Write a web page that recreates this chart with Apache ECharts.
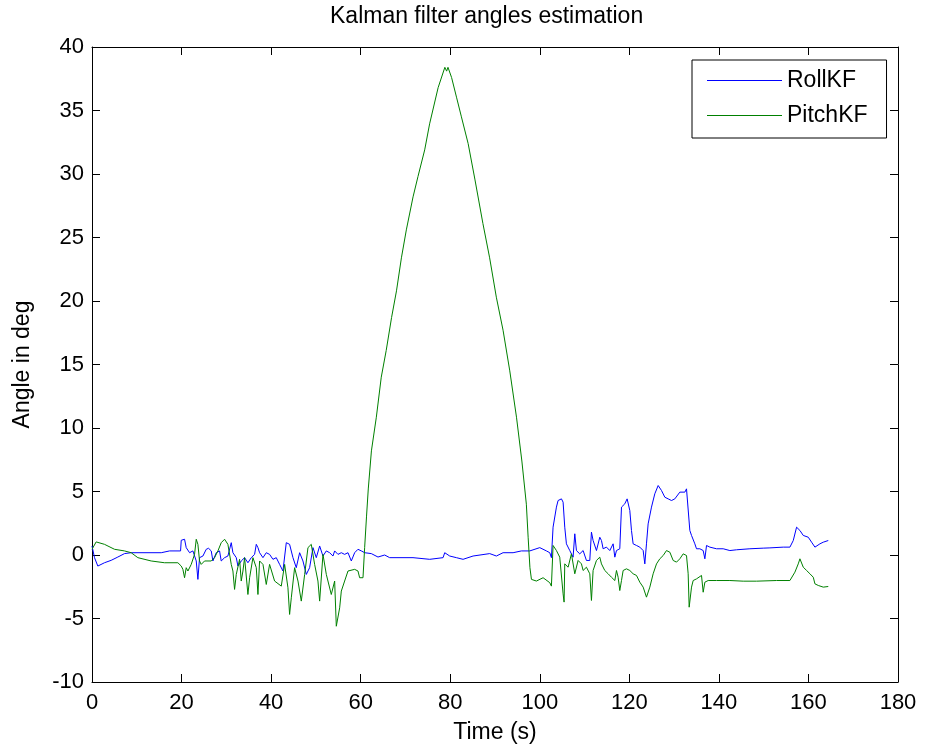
<!DOCTYPE html>
<html>
<head>
<meta charset="utf-8">
<title>Kalman filter angles estimation</title>
<script src="https://cdn.jsdelivr.net/npm/echarts@6/dist/echarts.min.js"></script>
<style>
  html, body { margin: 0; padding: 0; background: #fff; }
  #chart { width: 925px; height: 749px; }
</style>
</head>
<body>
<div id="chart"></div>
<script>
// values (time in s, angle in deg)
const rollTime = [0, 0.56, 1.3, 2.79, 4.28, 5.77, 7.26, 8.75, 15.46, 17.32, 19.78, 19.93, 20.67, 21.04, 21.79, 22.53,
  23.28, 23.65, 24.02, 24.77, 25.51, 26.03, 26.63, 27.0, 27.75, 28.49, 28.86, 29.61, 30.35, 31.1, 31.47, 32.22,
  32.59, 33.33, 34.08, 34.82, 35.57, 36.31, 36.69, 37.06, 37.43, 38.18, 38.92, 39.66, 40.41, 41.15, 41.9, 42.64,
  43.39, 44.13, 44.88, 45.62, 46.37, 47.11, 47.86, 48.6, 49.35, 50.09, 50.84, 51.58, 52.33, 53.07, 53.82, 54.19,
  54.93, 55.68, 56.42, 57.17, 57.91, 58.66, 59.4, 60.15, 60.89, 62.38, 63.87, 65.36, 66.48, 71.69, 75.42, 78.4,
  78.77, 79.89, 81.38, 82.87, 85.1, 88.82, 90.31, 91.8, 94.04, 95.9, 97.76, 100.0, 101.49, 102.23, 102.6, 102.97,
  103.72, 104.09, 104.84, 105.21, 105.58, 105.95, 106.7, 107.44, 107.82, 108.19, 108.93, 109.68, 110.42, 111.17,
  111.54, 111.91, 112.66, 113.4, 113.78, 114.15, 114.89, 115.64, 116.38, 116.76, 117.13, 117.87, 118.25, 118.99,
  119.51, 120.11, 120.48, 120.85, 121.6, 122.34, 123.09, 123.46, 123.83, 124.2, 124.95, 125.69, 126.44, 127.18,
  127.93, 128.67, 129.42, 130.16, 131.28, 131.65, 132.4, 132.77, 133.14, 133.51, 133.89, 134.63, 135.0, 135.75,
  136.49, 136.87, 137.24, 137.98, 139.47, 140.96, 142.45, 143.94, 146.92, 149.9, 151.39, 154.37, 155.86, 156.61,
  157.35, 157.72, 158.1, 158.84, 159.96, 160.7, 161.45, 161.82, 162.57, 163.31, 164.43];
const rollAngle = [0.71, -0.21, -0.87, -0.61, -0.42, -0.16, 0.11, 0.18, 0.18, 0.32, 0.32, 1.16, 1.24, 0.58, 0.18, 0.32,
  -0.47, -1.92, -0.21, -0.08, 0.45, 0.53, 0.32, -0.47, 0.18, 0.32, -0.47, -0.21, -0.08, 0.97, 0.18, -0.21,
  -0.87, -0.47, -0.21, -0.61, -0.21, 0.05, 0.84, 0.58, 0.18, -0.21, 0.18, 0.05, -0.34, -0.21, -0.74, -1.26,
  0.97, 0.84, -0.21, -1.0, 0.18, -0.47, -1.53, -1.0, 0.58, -0.21, 0.71, -0.08, 0.32, 0.18, -0.08, 0.32,
  0.05, 0.18, 0.05, 0.18, -0.47, 0.18, 0.45, 0.32, 0.18, 0.11, -0.16, 0.0, -0.21, -0.21, -0.34, -0.21,
  0.18, -0.08, -0.21, -0.34, -0.08, 0.11, -0.08, 0.18, 0.18, 0.32, 0.32, 0.58, 0.32, 0.18, -0.21, 2.19,
  3.77, 4.29, 4.42, 4.16, 2.19, 0.88, 0.35, -0.17, 1.67, 0.35, 0.09, 0.35, -0.43, -0.43,
  1.8, 1.14, 0.35, 1.4, 1.14, 0.49, 0.62, 0.35, 0.88, -0.17, 0.35, 0.49, 3.77, 4.03,
  4.42, 3.5, 1.93, 0.88, 0.75, 0.62, 0.35, -0.7, 0.88, 2.45, 3.77, 4.82, 5.47, 5.08,
  4.55, 4.42, 4.29, 4.42, 4.95, 5.08, 4.95, 5.21, 5.08, 1.93, 1.54, 0.88, 0.49, 0.49,
  0.35, -0.3, 0.75, 0.62, 0.49, 0.49, 0.35, 0.41, 0.49, 0.54, 0.56, 0.62, 0.62, 1.14,
  2.19, 2.32, 1.93, 1.54, 1.4, 1.01, 0.62, 0.75, 0.88, 1.01, 1.14];

const pitchTime = [0, 0.93, 2.79, 5.03, 7.26, 8.75, 10.24, 13.22, 16.2, 19.18, 19.93, 20.3, 20.67, 21.04, 21.42, 22.16,
  22.9, 23.28, 23.65, 24.02, 24.39, 25.14, 26.63, 27.37, 28.12, 28.86, 29.61, 30.35, 31.1, 31.47, 31.84, 32.22,
  32.96, 33.33, 33.71, 34.08, 34.82, 35.2, 35.94, 36.69, 37.06, 37.43, 38.18, 38.92, 39.66, 40.78, 42.27, 43.02,
  43.76, 44.13, 44.51, 45.25, 46.0, 46.74, 47.49, 48.23, 48.97, 49.72, 50.46, 50.84, 51.58, 52.33, 53.44, 54.19,
  54.56, 54.93, 55.31, 55.68, 56.42, 57.17, 58.66, 59.4, 59.77, 60.15, 60.52, 60.89, 61.3, 61.7, 62.4, 63.5,
  64.6, 65.7, 66.9, 68.0, 69.1, 70.2, 71.7, 72.8, 74.3, 75.4, 77.3, 78.8, 79.2, 79.5, 80.3, 81.4,
  82.5, 84.0, 85.5, 87.3, 88.8, 90.3, 91.8, 93.3, 94.8, 96.0, 97.0, 97.4, 97.8, 98.14, 99.25, 100.74,
  102.23, 102.6, 102.97, 103.72, 104.46, 105.21, 105.43, 105.58, 106.33, 107.07, 107.82, 108.56, 109.31, 109.68, 110.42, 111.17,
  111.54, 111.91, 112.66, 113.4, 113.78, 114.52, 115.27, 116.01, 116.76, 117.13, 117.5, 117.87, 118.25, 118.62, 119.36, 120.11,
  120.85, 121.6, 122.34, 123.09, 123.83, 124.58, 125.32, 126.07, 126.81, 127.56, 128.3, 129.05, 129.79, 130.54, 131.28, 132.03,
  132.4, 132.77, 133.14, 133.36, 133.89, 134.26, 135.0, 136.12, 136.49, 136.87, 137.61, 139.47, 142.45, 145.43, 148.41, 152.88,
  155.86, 156.98, 157.72, 158.1, 158.84, 159.59, 160.33, 161.08, 161.45, 162.2, 163.31, 164.43];
const pitchAngle = [0.45, 1.03, 0.84, 0.45, 0.32, 0.18, -0.21, -0.47, -0.61, -0.61, -0.87, -1.13, -1.79, -1.0, -1.26, -0.74,
  0.05, 1.24, 0.84, -0.47, -0.74, -0.47, -0.47, -0.21, 0.32, 0.97, 1.24, 0.84, -0.74, -1.26, -2.71, -1.53,
  -0.34, -2.05, -1.26, -0.21, -3.11, -1.79, -0.21, -1.0, -3.11, -0.47, -0.74, -2.32, -0.74, -2.05, -2.45, -0.74,
  -2.58, -4.68, -3.37, -1.0, -2.05, -3.63, -1.53, 0.58, 0.84, -0.74, -2.05, -3.63, 0.05, -1.53, -3.11, -2.05,
  -5.61, -5.74, -4.16, -2.84, -2.05, -1.26, -1.13, -1.26, -1.79, -1.92, -1.79, 0.58, 3.0, 5.2, 8.2, 10.85,
  14.0, 16.1, 18.7, 20.8, 23.4, 25.6, 28.2, 29.8, 31.9, 33.95, 36.8, 38.4, 38.1, 38.4, 37.6, 36.05,
  34.5, 32.4, 29.6, 26.1, 23.4, 20.3, 17.7, 14.5, 10.85, 7.4, 4.0, 1.4, -1.0, -1.92, -2.05, -1.79,
  -2.18, -2.45, 0.75, 0.35, -0.17, -3.06, -3.71, -0.7, -0.96, 0.09, -1.48, -0.43, -0.7, -1.22, -0.96, -1.48,
  -3.58, -1.22, -0.43, -0.17, -0.7, -1.22, -1.48, -1.75, -2.01, -1.22, -1.75, -2.8, -2.01, -1.22, -1.09, -1.22,
  -1.48, -1.61, -2.14, -2.53, -3.32, -2.53, -1.48, -0.7, -0.3, -0.04, 0.35, 0.22, -0.43, -0.56, -0.3, 0.09,
  0.22, -0.04, -1.48, -4.11, -2.53, -2.01, -1.88, -1.61, -2.93, -2.14, -2.01, -2.01, -2.01, -2.06, -2.06, -2.01,
  -2.01, -1.35, -0.7, -0.3, -0.96, -1.22, -1.48, -1.75, -2.27, -2.4, -2.53, -2.48];

const seriesNames = ['RollKF', 'PitchKF'];

const font = 'Liberation Sans, Arial, Helvetica, sans-serif';

function zip (xs, ys) {
  return xs.map((x, i) => [x, ys[i]]);
}

const chart = echarts.init(document.getElementById('chart'));

const xBase = {
  type: 'value',
  min: 0,
  max: 180,
  interval: 20,
  splitLine: { show: false },
  axisLine: { onZero: false, lineStyle: { color: '#000', width: 1 } },
  axisTick: { inside: true, length: 8, lineStyle: { color: '#000' } }
};
const yBase = {
  type: 'value',
  min: -10,
  max: 40,
  interval: 5,
  splitLine: { show: false },
  axisLine: { onZero: false, lineStyle: { color: '#000', width: 1 } },
  axisTick: { inside: true, length: 8, lineStyle: { color: '#000' } }
};

const option = {
  animation: false,
  backgroundColor: '#fff',
  title: {
    text: 'Kalman filter angles estimation',
    left: 330,
    top: 5,
    padding: 0,
    textStyle: { fontFamily: font, fontSize: 23, fontWeight: 'normal', color: '#000' }
  },
  legend: {
    orient: 'vertical',
    left: 692,
    top: 60,
    data: seriesNames,
    icon: 'rect',
    itemWidth: 75,
    itemHeight: 1,
    itemGap: 12,
    padding: [9, 19, 11, 15],
    borderColor: '#000',
    borderWidth: 1,
    backgroundColor: '#fff',
    textStyle: { fontFamily: font, fontSize: 23, color: '#000' }
  },
  grid: { left: 92, right: 27, top: 47, bottom: 67 },
  xAxis: [
    Object.assign({}, xBase, {
      position: 'bottom',
      name: 'Time (s)',
      nameLocation: 'middle',
      nameGap: 39,
      nameTextStyle: { fontFamily: font, fontSize: 23, color: '#000' },
      axisLabel: { margin: 10, fontFamily: font, fontSize: 22, color: '#000' }
    }),
    Object.assign({}, xBase, { position: 'top', axisLabel: { show: false } })
  ],
  yAxis: [
    Object.assign({}, yBase, {
      position: 'left',
      name: 'Angle in deg',
      nameLocation: 'middle',
      nameGap: 58,
      nameTextStyle: { fontFamily: font, fontSize: 23, color: '#000' },
      axisLabel: { margin: 8, fontFamily: font, fontSize: 22, color: '#000' }
    }),
    Object.assign({}, yBase, { position: 'right', axisLabel: { show: false } })
  ],
  series: [
    {
      name: seriesNames[0],
      type: 'line',
      showSymbol: false,
      color: '#0000ff',
      lineStyle: { width: 1, color: '#0000ff' },
      data: zip(rollTime, rollAngle)
    },
    {
      name: seriesNames[1],
      type: 'line',
      showSymbol: false,
      color: '#008000',
      lineStyle: { width: 1, color: '#008000' },
      data: zip(pitchTime, pitchAngle)
    }
  ]
};

chart.setOption(option);
</script>
</body>
</html>
